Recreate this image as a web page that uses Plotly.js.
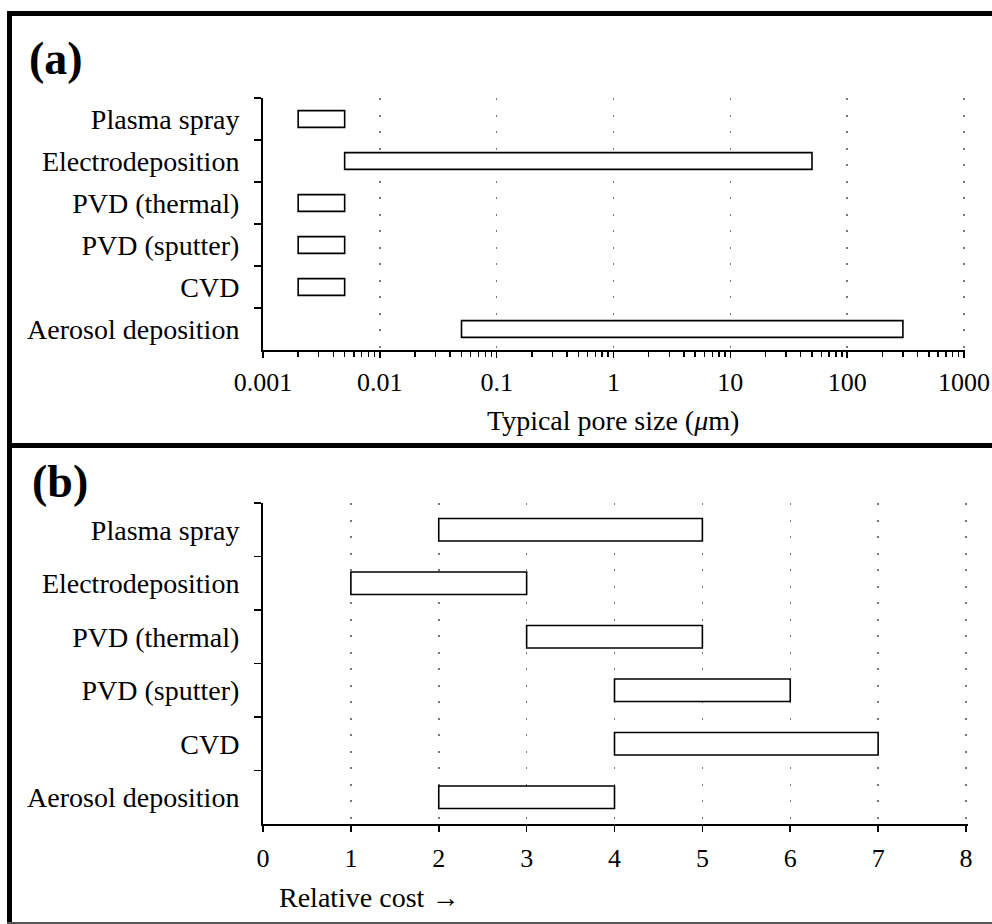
<!DOCTYPE html>
<html>
<head>
<meta charset="utf-8">
<script src="https://cdn.plot.ly/plotly-3.0.1.min.js"></script>
<style>
  html, body { margin: 0; padding: 0; background: #ffffff; }
  #chart { width: 992px; height: 924px; }
</style>
</head>
<body>
<div id="chart"></div>
<script>
// ---- data ----
const categories = ['Plasma spray', 'Electrodeposition', 'PVD (thermal)', 'PVD (sputter)', 'CVD', 'Aerosol deposition'];
const poreMin = [0.002, 0.005, 0.002, 0.002, 0.002, 0.05];
const poreMax = [0.005, 50, 0.005, 0.005, 0.005, 300];
const costMin = [2, 1, 3, 4, 4, 2];
const costMax = [5, 3, 5, 6, 7, 4];
const poreTickVals = [0.001, 0.01, 0.1, 1, 10, 100, 1000];
const poreTickText = ['0.001', '0.01', '0.1', '1', '10', '100', '1000'];
const costTickVals = [0, 1, 2, 3, 4, 5, 6, 7, 8];
const costTickText = ['0', '1', '2', '3', '4', '5', '6', '7', '8'];
const panelLabels = ['(a)', '(b)'];
const poreTitle = 'Typical pore size (<i>μ</i>m)';
const costTitle = 'Relative cost →';

// ---- styling helpers ----
const W = 992, H = 924;
const px = v => v / W;
const py = v => 1 - v / H;
const FONT = 'Liberation Serif, Times New Roman, serif';
const tickFont = { family: FONT, size: 26, color: '#000' };
const catFont = { family: FONT, size: 28, color: '#000' };

const poreTrace = {
  type: 'bar', orientation: 'h',
  y: categories,
  base: poreMin,
  x: poreMax.map((v, i) => v - poreMin[i]),
  width: 0.4,
  marker: { color: '#ffffff', line: { color: '#000', width: 1.6 } },
  xaxis: 'x', yaxis: 'y',
  hoverinfo: 'skip', showlegend: false
};
const costTrace = {
  type: 'bar', orientation: 'h',
  y: categories,
  base: costMin,
  x: costMax.map((v, i) => v - costMin[i]),
  width: 0.42,
  marker: { color: '#ffffff', line: { color: '#000', width: 1.6 } },
  xaxis: 'x2', yaxis: 'y2',
  hoverinfo: 'skip', showlegend: false
};

const yCommon = {
  type: 'category',
  categoryorder: 'array',
  categoryarray: categories,
  range: [5.5, -0.5],
  autorange: false,
  showline: true, linecolor: '#000', linewidth: 2,
  ticks: 'outside', tickson: 'boundaries', ticklen: 7, tickwidth: 1.6, tickcolor: '#000',
  showgrid: false, zeroline: false,
  tickfont: catFont,
  ticklabelstandoff: 16,
  fixedrange: true
};

const gridStyle = { showgrid: true, gridcolor: '#777', gridwidth: 1.5, griddash: '2px,14.5px' };

// small range extension so that the last gridline (1000 / 8) is kept
const logEps = 0.01, linEps = 0.02;
const pxPerDecade = (964 - 263) / 6, pxPerUnit = (966 - 263) / 8;

const layout = {
  width: W, height: H,
  margin: { l: 0, r: 0, t: 0, b: 0 },
  paper_bgcolor: '#ffffff', plot_bgcolor: 'rgba(0,0,0,0)',
  showlegend: false,
  xaxis: Object.assign({
    type: 'log', range: [-3, 3 + logEps], autorange: false,
    domain: [px(263), px(964 + logEps * pxPerDecade)], anchor: 'y',
    showline: true, linecolor: '#000', linewidth: 2,
    tickmode: 'array', tickvals: poreTickVals, ticktext: poreTickText,
    ticks: 'outside', ticklen: 6, tickwidth: 1.6, tickcolor: '#000',
    minor: { ticks: 'outside', ticklen: 5, tickwidth: 1.4, tickcolor: '#000', dtick: 'D1', showgrid: false },
    tickfont: tickFont, ticklabelstandoff: 2,
    zeroline: false, fixedrange: true
  }, gridStyle),
  yaxis: Object.assign({}, yCommon, { domain: [py(350), py(98)], anchor: 'x' }),
  xaxis2: Object.assign({
    type: 'linear', range: [0, 8 + linEps], autorange: false,
    domain: [px(263), px(966 + linEps * pxPerUnit)], anchor: 'y2',
    showline: true, linecolor: '#000', linewidth: 2,
    tickmode: 'array', tickvals: costTickVals, ticktext: costTickText,
    ticks: 'outside', ticklen: 6, tickwidth: 1.6, tickcolor: '#000',
    tickfont: tickFont, ticklabelstandoff: 4,
    zeroline: false, fixedrange: true
  }, gridStyle),
  yaxis2: Object.assign({}, yCommon, { domain: [py(824), py(503)], anchor: 'x2' }),
  annotations: [
    { text: '<b>' + panelLabels[0] + '</b>', xref: 'paper', yref: 'paper', x: px(56), y: py(58),
      xanchor: 'center', yanchor: 'middle', showarrow: false, font: { family: FONT, size: 46, color: '#000' } },
    { text: '<b>' + panelLabels[1] + '</b>', xref: 'paper', yref: 'paper', x: px(60), y: py(481),
      xanchor: 'center', yanchor: 'middle', showarrow: false, font: { family: FONT, size: 46, color: '#000' } },
    { text: poreTitle, xref: 'paper', yref: 'paper', x: px(613), y: py(420),
      xanchor: 'center', yanchor: 'middle', showarrow: false, font: { family: FONT, size: 28, color: '#000' } },
    { text: costTitle, xref: 'paper', yref: 'paper', x: px(277), y: py(897),
      xanchor: 'left', yanchor: 'middle', showarrow: false, font: { family: FONT, size: 28, color: '#000' } }
  ],
  shapes: [
    // outer frame: top, left, separator, bottom
    { type: 'line', xref: 'paper', yref: 'paper', x0: px(7), x1: 1.01, y0: py(13.5), y1: py(13.5), line: { color: '#000', width: 5 } },
    { type: 'line', xref: 'paper', yref: 'paper', x0: px(9.5), x1: px(9.5), y0: py(11), y1: py(924), line: { color: '#000', width: 5 } },
    { type: 'line', xref: 'paper', yref: 'paper', x0: px(7), x1: 1.01, y0: py(445.5), y1: py(445.5), line: { color: '#000', width: 5 } },
    { type: 'line', xref: 'paper', yref: 'paper', x0: px(7), x1: 1.01, y0: py(923), y1: py(923), line: { color: '#555', width: 2 } }
  ]
};

Plotly.newPlot('chart', [poreTrace, costTrace], layout, { displayModeBar: false, staticPlot: true });
</script>
</body>
</html>
